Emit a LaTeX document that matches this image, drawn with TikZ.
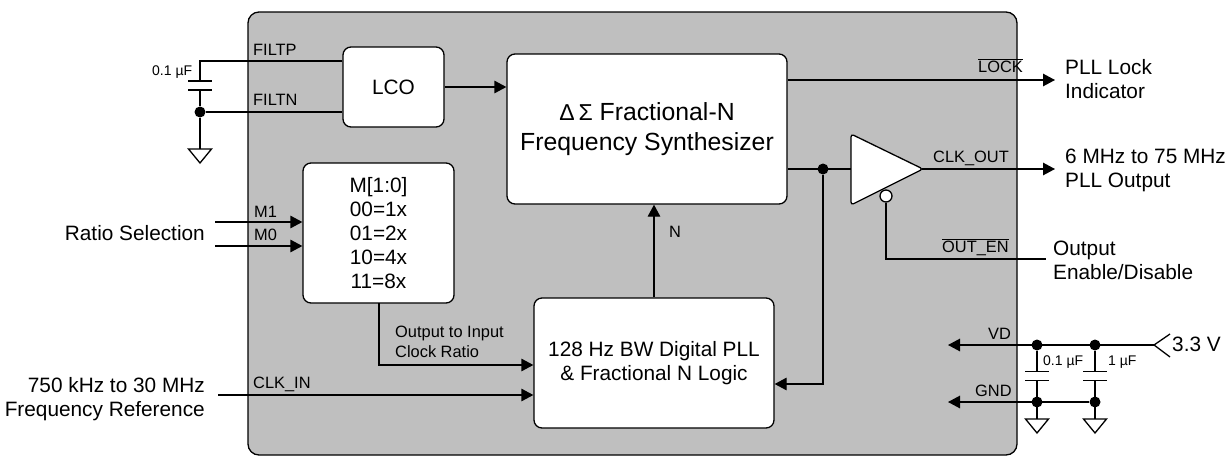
\documentclass[tikz,border=0pt]{standalone}
\usepackage{fontspec}
\setmainfont{Liberation Sans}
\usetikzlibrary{arrows.meta}
\tikzset{
  wire/.style={line width=1.3pt},
  arrowwire/.style={wire,-{Triangle[length=12pt,width=12.5pt]}},
  blockbox/.style={draw,line width=1.3pt,fill=white,rounded corners=8pt,align=center,font=\fontsize{20.8}{24}\selectfont},
  biglabel/.style={inner sep=0pt,align=left,anchor=west,font=\fontsize{20.8}{24}\selectfont},
  pinlabel/.style={inner sep=0pt,anchor=base west,font=\fontsize{16.4}{19}\selectfont},
  tinylabel/.style={inner sep=0pt,anchor=base west,font=\fontsize{14}{17}\selectfont},
  junction/.style={circle,fill=black,inner sep=0pt,minimum size=11pt},
  gnd/.style={draw,line width=1.3pt,line join=miter},
}
\newcommand{\gndsym}[1]{\draw [gnd] (#1) ++(-11.5,0) -- ++(23,0) -- ++(-11.5,14) -- cycle;}
\newcommand{\capsym}[1]{\draw [wire] (#1) ++(-12,-4.5) -- ++(24,0) ++(-24,9) -- ++(24,0);}
\begin{document}
\begin{tikzpicture}[x=1pt,y=-1pt]
\useasboundingbox (0,0) rectangle (1231,456);
% chip outline
\draw [wire,fill=black!25,rounded corners=11pt] (248,12) rectangle (1017,455);
% blocks
\node [blockbox,minimum width=101pt,minimum height=80pt] (LCO) at (393.5,87) {LCO};
\node [blockbox,minimum width=280pt,minimum height=150pt,font=\fontsize{24.8}{30}\selectfont] (Synth) at (647,129) {{\fontsize{23}{30}\selectfont Δ\,Σ} Fractional-N\\Frequency Synthesizer};
\node [blockbox,minimum width=151pt,minimum height=140pt] (Ratio) at (378.5,233) {M[1:0]\\00=1x\\01=2x\\10=4x\\11=8x};
\node [blockbox,minimum width=240pt,minimum height=130pt] (Logic) at (654,363) {128 Hz BW Digital PLL\\\& Fractional N Logic};
% output buffer
\coordinate (BufIn) at (851,169);
\coordinate (BufOut) at (922,169);
\draw [wire,fill=white,rounded corners=3pt] (851,134) -- (923,169) -- (851,205) -- cycle;
\node [draw,circle,line width=1.3pt,fill=white,inner sep=0pt,minimum size=12pt] (Bubble) at (886,196) {};
% loop filter
\coordinate (FiltCap) at (200,85.5);
\coordinate (FiltTop) at (200,61);
\coordinate (FiltGnd) at (200,149);
\node [junction] (FiltDot) at (200,112) {};
\draw [wire] (LCO.west |- FiltTop) -- (FiltTop) -- (200,81);
\draw [wire] (200,90) -- (FiltDot) -- (FiltGnd);
\draw [wire] (FiltDot) -- (LCO.west |- FiltDot);
\capsym{FiltCap}
\gndsym{FiltGnd}
\node [pinlabel] at (253,55.5) {FILTP};
\node [pinlabel] at (253,105.5) {FILTN};
\node [tinylabel] at (152,75) {0.1 µF};
% signal paths
\draw [arrowwire] (LCO.east |- 0,87) -- (Synth.west |- 0,87);
\coordinate (LockEnd) at (1055,80);
\draw [arrowwire] (Synth.east |- LockEnd) -- (LockEnd);
\node [pinlabel] at (978,72) {$\overline{\mbox{LOCK}}$};
\node [junction] (FbDot) at (823,169) {};
\draw [wire] (Synth.east |- BufIn) -- (BufIn);
\draw [arrowwire] (FbDot) -- (823,384) -- (Logic.east |- 0,384);
\coordinate (OutEnd) at (1055,169);
\draw [arrowwire] (BufOut) -- (OutEnd);
\node [pinlabel] at (933,162) {CLK\_OUT};
\coordinate (EnEnd) at (1046,259);
\draw [wire] (Bubble) -- (Bubble |- EnEnd) -- (EnEnd);
\node [pinlabel] at (942,252) {$\overline{\mbox{OUT\_EN}}$};
\draw [arrowwire] (Logic.north) -- (Logic.north |- Synth.south);
\node [pinlabel] at (669,237) {N};
% inputs
\coordinate (M1In) at (215,222);
\coordinate (M0In) at (215,246);
\draw [arrowwire] (M1In) -- (Ratio.west |- M1In);
\draw [arrowwire] (M0In) -- (Ratio.west |- M0In);
\node [pinlabel] at (254,217.5) {M1};
\node [pinlabel] at (254,240) {M0};
\coordinate (ClkIn) at (218,395);
\draw [arrowwire] (ClkIn) -- (Logic.west |- ClkIn);
\node [pinlabel] at (253,388) {CLK\_IN};
\draw [arrowwire] (379,303) -- (379,365) -- (Logic.west |- 0,365);
\node [pinlabel] at (395,337) {Output to Input};
\node [pinlabel] at (395,357) {Clock Ratio};
% supply
\coordinate (SupEnd) at (1154,345);
\coordinate (VdEnd) at (948,345);
\coordinate (GndEnd) at (948,402);
\node [junction] (VdA) at (1037,345) {};
\node [junction] (VdB) at (1095,345) {};
\node [junction] (GndA) at (1037,402) {};
\node [junction] (GndB) at (1095,402) {};
\coordinate (CapA) at (1037,376);
\coordinate (CapB) at (1095,376);
\coordinate (GndSymA) at (1037,419);
\coordinate (GndSymB) at (1095,419);
\draw [arrowwire] (SupEnd) -- (VdEnd);
\draw [arrowwire] (GndB) -- (GndEnd);
\draw [wire] (1170,334) -- (SupEnd) -- (1170,357);
\draw [wire] (VdA) -- (1037,371.5) (1037,380.5) -- (GndSymA);
\draw [wire] (VdB) -- (1095,371.5) (1095,380.5) -- (GndSymB);
\capsym{CapA}
\capsym{CapB}
\gndsym{GndSymA}
\gndsym{GndSymB}
\node [pinlabel] at (988,339) {VD};
\node [pinlabel] at (975,396) {GND};
\node [tinylabel] at (1043,365) {0.1 µF};
\node [tinylabel] at (1108,365) {1 µF};
% outside labels
\node [biglabel] at (1065,79) {PLL Lock\\Indicator};
\node [biglabel] at (1065,170) {6 MHz to 75 MHz\\PLL Output};
\node [biglabel] at (1053,260) {Output\\Enable/Disable};
\node [biglabel] at (1172,344) {3.3 V};
\node [biglabel,anchor=east] at (205,233) {Ratio Selection};
\node [biglabel,anchor=east,align=right] at (205,399) {750 kHz to 30 MHz\\Frequency Reference};
\end{tikzpicture}
\end{document}
